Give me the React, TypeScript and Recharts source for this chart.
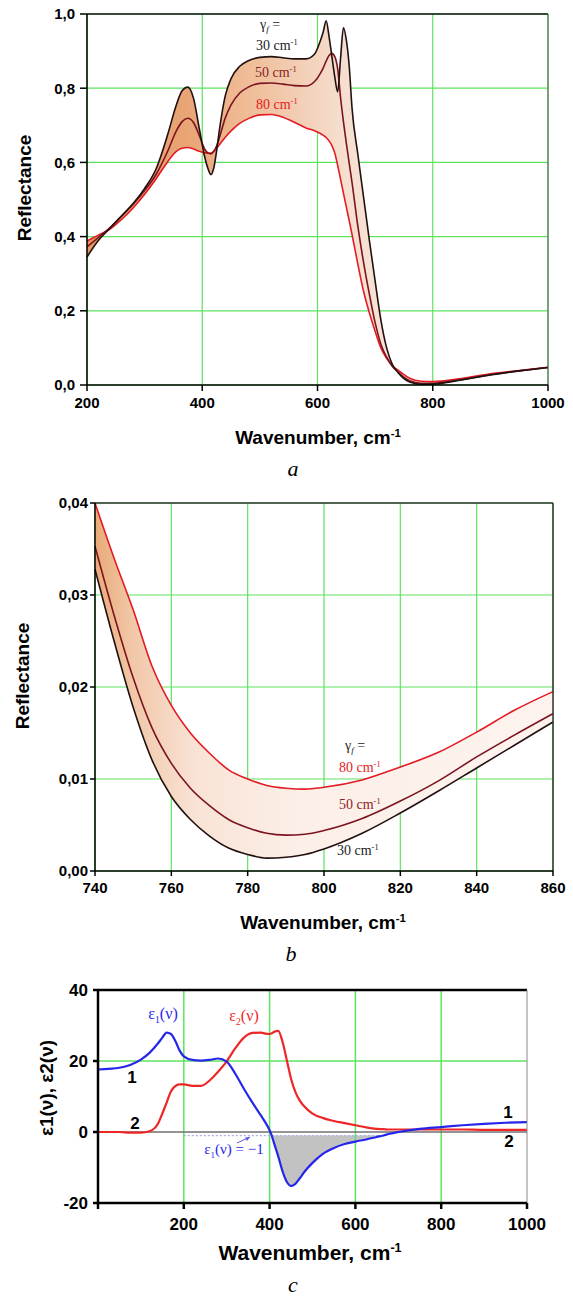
import React from 'react';
import {
  ComposedChart,
  Line,
  Area,
  XAxis,
  YAxis,
  CartesianGrid,
  ReferenceLine,
} from 'recharts';

// ---------- panel a: reflectance 200-1000 cm-1 ----------
const wavenumberA = [
  200, 220, 240, 260, 280, 300, 320, 340, 355, 365, 375, 385, 395, 405, 410, 415, 420, 425, 430,
  440, 450, 465, 480, 500, 520, 540, 560, 580, 595, 605, 610, 615, 620, 625, 630, 635, 640, 645,
  650, 655, 660, 670, 680, 690, 700, 710, 720, 730, 740, 750, 760, 780, 800, 850, 900, 950, 1000,
];
const refl30A = [
  0.345, 0.39, 0.423, 0.456, 0.489, 0.53, 0.583, 0.675, 0.755, 0.793, 0.803, 0.772, 0.69, 0.61,
  0.583, 0.567, 0.585, 0.632, 0.69, 0.78, 0.826, 0.859, 0.874, 0.883, 0.885, 0.882, 0.879, 0.879,
  0.892, 0.928, 0.952, 0.982, 0.94, 0.885, 0.83, 0.79, 0.88, 0.963, 0.93, 0.86, 0.745, 0.622,
  0.506, 0.39, 0.28, 0.175, 0.1, 0.055, 0.033, 0.017, 0.008, 0.0019, 0.0024, 0.0137, 0.027,
  0.038, 0.047,
];
const refl50A = [
  0.372, 0.398, 0.424, 0.455, 0.487, 0.524, 0.568, 0.63, 0.685, 0.71, 0.719, 0.707, 0.672, 0.634,
  0.625, 0.623, 0.63, 0.645, 0.668, 0.72, 0.755, 0.787, 0.803, 0.813, 0.814, 0.811, 0.807, 0.806,
  0.818, 0.84, 0.855, 0.873, 0.888, 0.894, 0.885, 0.852, 0.775, 0.71, 0.652, 0.598, 0.545, 0.428,
  0.33, 0.245, 0.168, 0.11, 0.075, 0.05, 0.035, 0.021, 0.0115, 0.0047, 0.0044, 0.0148, 0.028,
  0.038, 0.047,
];
const refl80A = [
  0.388, 0.404, 0.42, 0.446, 0.477, 0.514, 0.556, 0.602, 0.63, 0.638, 0.64, 0.636, 0.63, 0.626,
  0.625, 0.625, 0.63, 0.638, 0.648, 0.668, 0.685, 0.705, 0.718, 0.728, 0.729, 0.722, 0.708, 0.693,
  0.685, 0.678, 0.673, 0.667, 0.658, 0.645, 0.625, 0.592, 0.555, 0.517, 0.48, 0.443, 0.405, 0.326,
  0.252, 0.195, 0.145, 0.1, 0.072, 0.052, 0.04, 0.028, 0.018, 0.01, 0.0092, 0.0175, 0.03, 0.039,
  0.048,
];
const ticksAx = [200, 400, 600, 800, 1000];
const ticksAy = [0, 0.2, 0.4, 0.6, 0.8, 1];

// ---------- panel b: zoom on the minimum ----------
const wavenumberB = [
  740, 745, 750, 755, 760, 765, 770, 775, 780, 785, 790, 795, 800, 810, 820, 830, 840, 850, 860,
];
const refl80B = [
  0.04, 0.034, 0.0284, 0.0222, 0.018, 0.015, 0.0128, 0.011, 0.01, 0.0093, 0.009, 0.0089, 0.0091,
  0.0099, 0.0113, 0.0129, 0.0151, 0.0175, 0.0195,
];
const refl50B = [
  0.0353, 0.0278, 0.021, 0.0155, 0.0117, 0.009, 0.0071, 0.0056, 0.0047, 0.0041, 0.0039, 0.004,
  0.0044, 0.0057, 0.0076, 0.0098, 0.0124, 0.0148, 0.0171,
];
const refl30B = [
  0.0328, 0.025, 0.0178, 0.012, 0.0081, 0.0056, 0.0038, 0.0025, 0.0018, 0.0014, 0.0015, 0.0018,
  0.0024, 0.0041, 0.0063, 0.0087, 0.0112, 0.0137, 0.0162,
];
const ticksBx = [740, 760, 780, 800, 820, 840, 860];
const ticksBy = [0, 0.01, 0.02, 0.03, 0.04];

// ---------- panel c: dielectric function ----------
const wavenumberC = [
  0, 25, 50, 75, 100, 120, 140, 150, 160, 170, 180, 190, 200, 220, 240, 260, 280, 300, 320, 340,
  360, 380, 390, 400, 405, 410, 420, 430, 440, 450, 460, 470, 480, 500, 525, 550, 575, 600, 625,
  650, 665, 680, 700, 750, 800, 850, 900, 950, 1000,
];
const eps1 = [
  17.6, 17.8, 18.1, 18.9, 20.4, 22.3, 25.0, 26.6, 28.0, 27.6, 25.7, 23.0, 21.3, 20.3, 20.1, 20.3,
  20.7, 19.8, 16.4, 12.2, 8.3, 4.6, 2.7, 0.5, -1.0, -3.0, -6.8, -11.0, -14.0, -15.2, -14.6, -13.1,
  -11.4, -8.7, -6.1, -4.5, -3.4, -2.7, -2.1, -1.4, -1.0, -0.5, 0.0, 0.9, 1.4, 1.9, 2.3, 2.6, 2.8,
];
const eps2 = [
  0, 0, 0, -0.2, -0.2, 0.2, 2.4, 5.2, 8.3, 11.4, 12.9, 13.4, 13.4, 13.0, 13.0, 14.5, 17.0, 19.9,
  23.6, 26.6, 27.9, 28.0, 27.7, 27.6, 27.8, 28.2, 28.5, 25.5, 20.3, 15.0, 11.3, 8.9, 7.3, 5.2, 3.9,
  3.1, 2.5, 1.9, 1.3, 0.9, 0.8, 0.7, 0.7, 0.7, 0.7, 0.7, 0.6, 0.6, 0.6,
];
const minusOneRange = [200, 665];
const ticksCx = [0, 200, 400, 600, 800, 1000];
const ticksCy = [-20, 0, 20, 40];
const gridCx = [200, 400, 600, 800];

const tableA = wavenumberA.map((x, i) => ({ x, g30: refl30A[i], g50: refl50A[i], g80: refl80A[i] }));
const tableB = wavenumberB.map((x, i) => ({ x, g30: refl30B[i], g50: refl50B[i], g80: refl80B[i] }));
const tableC = wavenumberC.map((x, i) => ({ x, e1: eps1[i], e2: eps2[i] }));

const SANS = "'Liberation Sans', Arial, Helvetica, sans-serif";
const SERIF = "'Liberation Serif', 'Times New Roman', serif";
const C30 = '#231010';
const C50 = '#7c1420';
const C80 = '#e31b23';
const GRID = '#5ee35e';
const BLUE = '#2626ea';
const RED = '#ef2626';

const comma = (d: number) => (v: number) => v.toFixed(d).replace('.', ',');
const envelope = (d: any) => [Math.min(d.g30, d.g50, d.g80), Math.max(d.g30, d.g50, d.g80)];
const below = (d: any) => (d.e1 < -1 ? [d.e1, -1] : [-1, -1]);

const tickFont = (size: number) => ({ fill: '#000', fontSize: size, fontWeight: 700, fontFamily: SANS });

const Txt = (props: any) => {
  const { x, y, rotate, left, style, children } = props;
  const tf = left ? 'translate(0,-50%)' : 'translate(-50%,-50%)';
  return (
    <div
      style={{
        position: 'absolute',
        left: x,
        top: y,
        transform: rotate ? `${tf} rotate(-90deg)` : tf,
        whiteSpace: 'nowrap',
        lineHeight: 1,
        ...style,
      }}
    >
      {children}
    </div>
  );
};

const axisTitle = { fontFamily: SANS, fontWeight: 700, fontSize: 19, color: '#000' };
const panelLetter = { fontFamily: SERIF, fontStyle: 'italic', fontSize: 22, color: '#000', lineHeight: 0.7 };
const note = { fontFamily: SERIF, fontSize: 14 };
const sup = { fontSize: '0.6em', verticalAlign: '0.6em' };

const Cm = ({ color }: { color: string }) => (
  <span style={{ color }}>
    cm<span style={sup}>-1</span>
  </span>
);

export default function App() {
  return (
    <div style={{ position: 'absolute', left: 0, top: 0, width: 573, height: 1296, background: '#fff', overflow: 'hidden' }}>
      {/* a */}
      <div style={{ position: 'absolute', left: 0, top: 0 }}>
        <ComposedChart width={573} height={420} data={tableA} margin={{ top: 14, right: 25, bottom: 0, left: 0 }}>
          <defs>
            <linearGradient id="fillA" x1="0" y1="0" x2="1" y2="0">
              <stop offset="0%" stopColor="#e59a66" />
              <stop offset="22%" stopColor="#e9a575" />
              <stop offset="32%" stopColor="#eeb890" />
              <stop offset="44%" stopColor="#f2cbb0" />
              <stop offset="56%" stopColor="#f6dfd0" />
              <stop offset="100%" stopColor="#fbefe8" />
            </linearGradient>
          </defs>
          <CartesianGrid stroke={GRID} strokeWidth={1.2} />
          <XAxis
            dataKey="x"
            type="number"
            domain={[200, 1000]}
            ticks={ticksAx}
            height={35}
            tickSize={6}
            tickMargin={6}
            stroke="#000"
            strokeWidth={1.5}
            tick={tickFont(15)}
          />
          <YAxis
            type="number"
            domain={[0, 1]}
            ticks={ticksAy}
            width={87}
            tickSize={7}
            tickMargin={5}
            stroke="#000"
            strokeWidth={1.5}
            tickFormatter={comma(1)}
            tick={tickFont(15)}
          />
          <Area dataKey={envelope} type="monotone" fill="url(#fillA)" fillOpacity={1} stroke="none" isAnimationActive={false} />
          <Line dataKey="g80" type="monotone" stroke={C80} strokeWidth={1.6} dot={false} isAnimationActive={false} />
          <Line dataKey="g50" type="monotone" stroke={C50} strokeWidth={1.6} dot={false} isAnimationActive={false} />
          <Line dataKey="g30" type="monotone" stroke={C30} strokeWidth={1.6} dot={false} isAnimationActive={false} />
          <ReferenceLine y={1} stroke="#111" strokeWidth={1.5} />
          <ReferenceLine x={1000} stroke="#555" strokeWidth={1} />
        </ComposedChart>
      </div>
      <Txt x={24} y={188} rotate style={axisTitle}>Reflectance</Txt>
      <Txt x={318} y={437} style={axisTitle}>
        Wavenumber, cm<span style={sup}>-1</span>
      </Txt>
      <Txt x={293} y={469} style={panelLetter}>a</Txt>
      <Txt x={270} y={26} style={{ ...note, color: '#222' }}>
        γ<sub style={{ fontSize: '0.65em', fontStyle: 'italic' }}>f</sub> =
      </Txt>
      <Txt x={256} y={46} left style={{ ...note, color: '#222' }}>30 <Cm color="#222" /></Txt>
      <Txt x={255} y={73} left style={{ ...note, color: '#8a2424' }}>50 <Cm color="#8a2424" /></Txt>
      <Txt x={256} y={105} left style={{ ...note, color: '#e41c1c' }}>80 <Cm color="#e41c1c" /></Txt>

      {/* b */}
      <div style={{ position: 'absolute', left: 0, top: 480 }}>
        <ComposedChart width={573} height={426} data={tableB} margin={{ top: 23, right: 20, bottom: 0, left: 0 }}>
          <defs>
            <linearGradient id="fillB" x1="0" y1="0" x2="1" y2="0">
              <stop offset="0%" stopColor="#e9aa78" />
              <stop offset="8%" stopColor="#f1c7a7" />
              <stop offset="22%" stopColor="#f9e3d6" />
              <stop offset="45%" stopColor="#fcefe8" />
              <stop offset="100%" stopColor="#fdf3ee" />
            </linearGradient>
          </defs>
          <CartesianGrid stroke={GRID} strokeWidth={1.2} />
          <XAxis
            dataKey="x"
            type="number"
            domain={[740, 860]}
            ticks={ticksBx}
            height={35}
            tickSize={5}
            tickMargin={6}
            stroke="#000"
            strokeWidth={1.5}
            tick={tickFont(15)}
          />
          <YAxis
            type="number"
            domain={[0, 0.04]}
            ticks={ticksBy}
            width={95}
            tickSize={5}
            tickMargin={2}
            stroke="#000"
            strokeWidth={1.5}
            tickFormatter={comma(2)}
            tick={tickFont(15)}
          />
          <Area dataKey={envelope} type="monotone" fill="url(#fillB)" fillOpacity={1} stroke="none" isAnimationActive={false} />
          <Line dataKey="g80" type="monotone" stroke={C80} strokeWidth={1.6} dot={false} isAnimationActive={false} />
          <Line dataKey="g50" type="monotone" stroke={C50} strokeWidth={1.6} dot={false} isAnimationActive={false} />
          <Line dataKey="g30" type="monotone" stroke={C30} strokeWidth={1.6} dot={false} isAnimationActive={false} />
          <ReferenceLine y={0.04} stroke="#333" strokeWidth={1.5} />
          <ReferenceLine x={860} stroke="#333" strokeWidth={1.5} />
        </ComposedChart>
      </div>
      <Txt x={22} y={676} rotate style={axisTitle}>Reflectance</Txt>
      <Txt x={323} y={922} style={axisTitle}>
        Wavenumber, cm<span style={sup}>-1</span>
      </Txt>
      <Txt x={291} y={954} style={panelLetter}>b</Txt>
      <Txt x={355} y={747} style={{ ...note, color: '#222' }}>
        γ<sub style={{ fontSize: '0.65em', fontStyle: 'italic' }}>f</sub> =
      </Txt>
      <Txt x={339} y={768} left style={{ ...note, color: '#e41c1c' }}>80 <Cm color="#e41c1c" /></Txt>
      <Txt x={339} y={805} left style={{ ...note, color: '#8a2424' }}>50 <Cm color="#8a2424" /></Txt>
      <Txt x={337} y={851} left style={{ ...note, color: '#222' }}>30 <Cm color="#222" /></Txt>

      {/* c */}
      <div style={{ position: 'absolute', left: 0, top: 975 }}>
        <ComposedChart width={573} height={268} data={tableC} margin={{ top: 15, right: 46, bottom: 0, left: 0 }}>
          {gridCx.map((v) => (
            <ReferenceLine key={v} x={v} stroke={GRID} strokeWidth={1.5} />
          ))}
          <ReferenceLine y={20} stroke={GRID} strokeWidth={1.5} />
          <XAxis
            dataKey="x"
            type="number"
            domain={[0, 1000]}
            ticks={ticksCx}
            height={40}
            tickSize={6}
            tickMargin={9}
            stroke="#000"
            strokeWidth={2.5}
            tickFormatter={(v: number) => (v === 0 ? '' : String(v))}
            tick={tickFont(17)}
          />
          <YAxis
            type="number"
            domain={[-20, 40]}
            ticks={ticksCy}
            width={98}
            tickSize={5}
            tickMargin={5}
            stroke="#000"
            strokeWidth={2.5}
            tick={tickFont(17)}
          />
          <Area dataKey={below} type="monotone" fill="#c2c2c2" fillOpacity={1} stroke="none" isAnimationActive={false} />
          <ReferenceLine y={0} stroke="#707070" strokeWidth={1.5} />
          <ReferenceLine
            segment={[
              { x: minusOneRange[0], y: -1 },
              { x: minusOneRange[1], y: -1 },
            ]}
            stroke="#a8aee6"
            strokeWidth={1.2}
            strokeDasharray="2 2"
          />
          <Line dataKey="e2" type="monotone" stroke={RED} strokeWidth={2.2} dot={false} isAnimationActive={false} />
          <Line dataKey="e1" type="monotone" stroke={BLUE} strokeWidth={2.2} dot={false} isAnimationActive={false} />
          <ReferenceLine y={40} stroke="#000" strokeWidth={2.5} />
          <ReferenceLine x={1000} stroke="#888" strokeWidth={1} />
        </ComposedChart>
      </div>
      <Txt x={46} y={1088} rotate style={axisTitle}>ε1(ν), ε2(ν)</Txt>
      <Txt x={310} y={1252} style={{ ...axisTitle, fontSize: 21 }}>
        Wavenumber, cm<span style={sup}>-1</span>
      </Txt>
      <Txt x={293} y={1285} style={panelLetter}>c</Txt>
      <Txt x={163} y={1015} style={{ fontFamily: SERIF, fontSize: 16, color: BLUE }}>
        ε<sub style={{ fontSize: '0.6em' }}>1</sub>(ν)
      </Txt>
      <Txt x={244} y={1017} style={{ fontFamily: SERIF, fontSize: 16, color: RED }}>
        ε<sub style={{ fontSize: '0.6em' }}>2</sub>(ν)
      </Txt>
      <Txt x={132} y={1077} style={{ fontFamily: SANS, fontWeight: 700, fontSize: 17 }}>1</Txt>
      <Txt x={135} y={1123} style={{ fontFamily: SANS, fontWeight: 700, fontSize: 17 }}>2</Txt>
      <Txt x={508} y={1112} style={{ fontFamily: SANS, fontWeight: 700, fontSize: 17 }}>1</Txt>
      <Txt x={509} y={1141} style={{ fontFamily: SANS, fontWeight: 700, fontSize: 17 }}>2</Txt>
      <Txt x={234} y={1151} style={{ fontFamily: SERIF, fontSize: 15, color: BLUE }}>
        ε<sub style={{ fontSize: '0.6em' }}>1</sub>(ν) = −1
      </Txt>
      <svg style={{ position: 'absolute', left: 0, top: 0, pointerEvents: 'none' }} width={573} height={1296}>
        <line x1={237} y1={1143} x2={250} y2={1137} stroke="#5a5ae0" strokeWidth={1} />
        <path d="M250,1137 L245,1137.5 L247,1141 Z" fill="#5a5ae0" />
      </svg>
    </div>
  );
}
